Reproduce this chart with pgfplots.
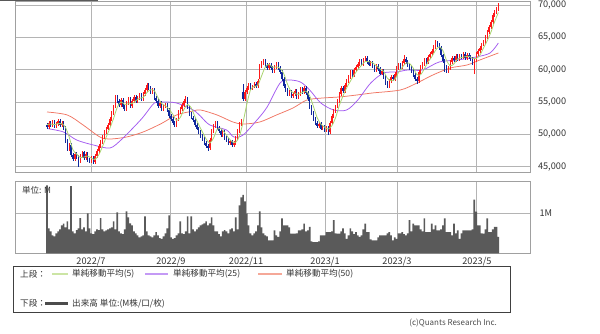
\documentclass[border=0pt]{standalone}
\usepackage{pgfplots}
\pgfplotsset{compat=1.18}
\usepackage{pgfplotstable}
\usepackage{fontspec}
\setmainfont{Noto Sans CJK JP}
\definecolor{upc}{HTML}{FF1A1A}
\definecolor{dnc}{HTML}{10289C}
\definecolor{ma5}{HTML}{A9D46F}
\definecolor{ma25}{HTML}{A259F0}
\definecolor{ma50}{HTML}{F07563}
\definecolor{ma5l}{HTML}{CCE5A5}
\definecolor{ma25l}{HTML}{C49AF5}
\definecolor{ma50l}{HTML}{F5A898}
\definecolor{volc}{HTML}{5A5A5A}
\definecolor{gridc}{HTML}{B4B4B4}
\definecolor{framec}{HTML}{A0A0A0}
\definecolor{txtc}{HTML}{333333}

\pgfplotstableread{
i o h l c v
0 51500 51800 50900 51200 1.70
1 51200 52000 50900 51700 0.62
2 51700 52000 51100 51400 0.55
3 51400 52200 51100 51900 0.45
4 51900 52200 51000 51300 0.42
5 51300 51900 51000 51600 0.50
6 51600 52400 51300 52100 0.55
7 52100 52400 51200 51500 0.60
8 51500 52100 51200 51800 0.70
9 51800 52100 50700 51000 0.74
10 51000 51300 48700 49000 0.65
11 49000 49300 47500 47800 0.80
12 47800 48600 47500 48300 0.60
13 48300 48600 46500 46800 1.68
14 46800 47100 45900 46200 0.55
15 46200 47300 45900 47000 0.50
16 47000 47300 46200 46500 0.58
17 46500 46800 45000 45800 0.62
18 45800 46900 45500 46600 0.88
19 46600 47500 46300 47200 0.60
20 47200 47500 46100 46400 0.65
21 46400 47200 46100 46900 0.55
22 46900 47200 45800 46100 1.00
23 46100 46400 45600 45900 0.62
24 45900 46600 45600 46300 0.50
25 46300 46600 45400 45700 0.48
26 45700 46900 45400 46600 0.55
27 46600 47700 46300 47400 0.60
28 47400 48500 47100 48200 0.58
29 48200 49100 47900 48800 0.88
30 48800 49900 48500 49600 0.60
31 49600 50700 49300 50400 0.55
32 50400 51200 50100 50900 0.57
33 50900 51800 50600 51500 0.60
34 51500 52700 51200 52400 0.62
35 52400 53600 52100 53300 0.65
36 53300 54600 53000 54300 0.80
37 54300 56100 54000 55800 0.60
38 55800 56100 54900 55200 1.02
39 55200 55500 54200 54500 0.55
40 54500 55600 54200 55300 0.50
41 55300 55600 53900 54200 0.48
42 54200 54500 53600 53900 0.60
43 53900 55100 53600 54800 1.05
44 54800 55800 54500 55500 0.90
45 55500 55800 54100 54400 0.75
46 54400 55500 54100 55200 0.70
47 55200 56100 54900 55800 0.55
48 55800 56100 54800 55100 0.50
49 55100 55900 54800 55600 0.45
50 55600 56400 55300 56100 0.40
51 56100 56400 55100 55400 0.42
52 55400 56600 55100 56300 0.45
53 56300 57200 56000 56900 0.92
54 56900 57900 56600 57600 0.55
55 57600 57900 56900 57200 0.45
56 57200 57500 56200 56500 0.42
57 56500 57100 56200 56800 0.40
58 56800 57100 55300 55600 0.45
59 55600 55900 54800 55100 0.53
60 55100 55400 54100 54400 0.45
61 54400 55100 54100 54800 0.38
62 54800 55100 53600 53900 0.36
63 53900 54600 53600 54300 0.42
64 54300 54900 54000 54600 0.50
65 54600 54900 53500 53800 0.62
66 53800 54100 52600 52900 0.95
67 52900 53200 52100 52400 0.40
68 52400 52700 51500 51800 0.36
69 51800 52100 51200 51500 0.38
70 51500 52600 51200 52300 0.45
71 52300 53700 52000 53400 0.50
72 53400 54200 53100 53900 0.80
73 53900 54800 53600 54500 0.50
74 54500 55400 54200 55100 0.48
75 55100 55900 54800 55400 0.55
76 55400 55700 53900 54200 0.92
77 54200 54500 52800 53100 0.50
78 53100 53400 52300 52600 0.92
79 52600 52900 51900 52200 0.60
80 52200 52500 51200 51500 0.55
81 51500 51800 50600 50900 0.60
82 50900 51200 50100 50400 0.65
83 50400 50700 49500 49800 0.70
84 49800 50100 49000 49300 0.72
85 49300 49600 48400 48700 0.75
86 48700 49000 47900 48200 0.80
87 48200 48500 47400 47900 0.70
88 47900 49500 47600 49200 0.75
89 49200 50800 48900 50500 0.90
90 50500 51600 50200 51300 0.70
91 51300 52100 51000 51800 0.55
92 51800 52100 50700 51000 0.55
93 51000 51300 50200 50500 0.48
94 50500 50800 49600 49900 0.42
95 49900 50700 49600 50400 0.55
96 50400 50700 49200 49500 0.58
97 49500 49800 48800 49100 0.55
98 49100 49400 48300 48600 0.50
99 48600 49200 48300 48900 0.60
100 48900 49200 48000 48300 0.62
101 48300 48900 48000 48600 0.55
102 48600 49800 48300 49500 0.90
103 49500 50800 49200 50500 0.60
104 50500 51900 50200 51600 1.20
105 51600 52300 51300 52000 1.40
106 56600 57800 55100 55400 1.46
107 55400 56900 55100 56600 1.30
108 56600 57500 56300 57200 1.00
109 57200 57900 56900 57600 0.70
110 57600 57900 56800 57100 0.50
111 57100 57700 56800 57400 0.45
112 57400 58100 57100 57800 0.50
113 57800 58100 57200 57500 0.55
114 57500 58500 57200 58200 0.70
115 58800 60900 58500 60600 1.05
116 60600 61400 60300 61100 0.65
117 61100 61700 60800 61400 0.50
118 61400 61700 60400 60700 0.45
119 60700 61000 59900 60200 0.42
120 60200 61100 59900 60800 0.32
121 60800 61100 60000 60300 0.32
122 60300 60600 59500 59800 0.32
123 59800 60700 59500 60400 0.57
124 60400 61200 60100 60900 0.45
125 60900 61200 60000 60300 0.41
126 60300 60600 59300 59600 0.55
127 59600 59900 58300 58600 0.87
128 58600 58900 57200 57500 0.70
129 57500 57800 56500 56800 0.70
130 56800 57100 56000 56300 0.70
131 56300 56900 56000 56600 0.65
132 56600 56900 55600 55900 0.49
133 55900 56500 55600 56200 0.49
134 56200 57000 55900 56700 0.49
135 56700 57000 55500 55800 0.50
136 55800 56600 55500 56300 0.57
137 56300 57300 56000 57000 0.57
138 57000 57300 56300 56600 0.60
139 56600 57400 56300 57100 0.74
140 57100 57400 56100 56400 0.55
141 56400 56700 55100 55400 0.57
142 55400 55700 53900 54200 0.66
143 54200 54500 53000 53300 0.30
144 53300 53600 52100 52400 0.28
145 52400 52700 51500 51800 0.28
146 51800 52100 51000 51300 0.28
147 51300 51900 51000 51600 0.30
148 51600 51900 50600 50900 0.45
149 50900 51500 50600 51200 0.45
150 51200 51500 50400 50700 0.45
151 50700 51300 50400 51000 0.53
152 51000 51300 49900 50300 0.53
153 50300 52100 50000 51800 0.53
154 51800 53200 51500 52900 0.55
155 52900 53900 52600 53600 0.83
156 53600 54600 53300 54300 0.50
157 54300 55500 54000 55200 0.49
158 55200 56600 54900 56300 0.49
159 56300 57400 56000 57100 0.55
160 57100 57400 56400 56700 0.62
161 56700 57900 56400 57600 0.50
162 57600 58600 57300 58300 0.36
163 58300 59200 58000 58900 0.45
164 58900 59900 58600 59600 0.62
165 59600 59900 58900 59200 0.55
166 59200 60200 58900 59900 0.48
167 59900 60700 59600 60400 0.53
168 60400 61200 60100 60900 0.45
169 60900 61600 60600 61300 0.41
170 61300 61600 60500 60800 0.45
171 60800 61800 60500 61500 0.60
172 61500 62100 61200 61800 0.74
173 61800 62100 60900 61200 0.53
174 61200 61500 60500 60800 0.53
175 60800 61400 60500 61100 0.35
176 61100 61400 60200 60500 0.32
177 60500 60800 59700 60000 0.32
178 60000 60900 59700 60600 0.32
179 60600 60900 59800 60100 0.40
180 60100 60400 59100 59400 0.45
181 59400 60100 59100 59800 0.45
182 59800 60100 58500 58800 0.45
183 58800 59100 57600 57900 0.45
184 57900 58200 57200 57500 0.50
185 57500 58600 57200 58300 0.53
186 58300 59200 58000 58900 0.45
187 58900 59200 58200 58500 0.32
188 58500 59600 58200 59300 0.40
189 59300 60500 59000 60200 0.36
190 60200 61100 59900 60800 0.50
191 60800 61100 60100 60400 0.50
192 60400 61300 60100 61000 0.53
193 61000 62300 60700 61600 0.48
194 61600 61900 60900 61200 0.45
195 61200 61500 60400 60700 0.50
196 60700 61000 60000 60300 0.83
197 60300 60600 59500 59800 0.55
198 59800 60100 58900 59200 0.74
199 59200 59500 58300 58600 0.70
200 58600 58900 57800 58300 0.70
201 58300 59900 58000 59600 0.70
202 59600 60700 59300 60400 0.60
203 60400 61200 60100 60900 0.55
204 60900 61800 60600 61500 0.87
205 61500 61800 60900 61200 0.53
206 61200 62200 60900 61900 0.53
207 61900 62700 61600 62400 0.53
208 62400 63200 62100 62900 0.74
209 62900 63800 62600 63500 0.60
210 63500 64600 63200 64200 0.70
211 64200 64500 63500 63800 0.57
212 63800 64100 63000 63300 0.57
213 63300 63600 61900 62200 0.60
214 62200 62500 61000 61300 0.70
215 61300 61600 59600 60500 0.87
216 60500 60800 59500 59800 0.53
217 59800 60500 59500 60200 0.53
218 60200 61500 59900 61200 0.53
219 61200 62100 60900 61800 0.45
220 61800 62100 61200 61500 0.74
221 61500 62400 61200 62100 0.50
222 62100 62400 61400 61700 0.57
223 61700 62500 61400 62200 0.36
224 62200 62500 61600 61900 0.50
225 61900 62700 61600 62400 0.57
226 62400 62700 61500 61800 0.57
227 61800 62600 61500 62300 0.57
228 62300 62600 61700 62000 0.57
229 62000 62300 61400 61700 0.57
230 61700 62000 60700 61000 0.60
231 61000 61800 59400 61500 1.34
232 61500 62700 61200 62400 1.04
233 62400 63200 62100 62900 0.70
234 62900 63700 62600 63400 0.70
235 63400 64200 63100 63900 0.50
236 63900 64600 63600 64300 0.49
237 64300 65300 64000 65000 0.60
238 65000 66100 64700 65800 0.87
239 65800 66900 65500 66600 0.53
240 66600 67700 66300 67400 0.53
241 67400 68800 67100 68500 0.60
242 68500 69200 68200 68900 0.66
243 68900 69700 68600 69400 0.66
244 69400 70300 69100 70000 0.41
}\stock

\pgfplotstableread{
i m
0 51500
2 51600
4 51500
6 51660
8 51660
10 51080
12 49580
14 47620
16 46960
18 46420
20 46500
22 46640
24 46320
26 46120
28 46840
30 48120
32 49580
34 50960
36 52480
38 54200
40 55020
42 54620
44 54740
46 54760
48 55200
50 55560
52 55700
54 56460
56 56900
58 56740
60 55680
62 54760
64 54400
66 53900
68 53100
70 52180
72 52580
74 53840
76 54620
78 54080
80 52720
82 51520
84 50380
86 49280
88 48660
90 49420
92 50760
94 50900
96 50260
98 49500
100 48880
102 48780
104 49700
106 51880
108 54640
110 56860
112 57420
114 57600
116 59040
118 60400
120 60840
122 60360
124 60440
126 60200
128 59380
130 57760
132 56620
134 56340
136 56180
138 56480
140 56680
142 55940
144 54340
146 52600
148 51600
150 51140
152 50820
154 51340
156 52580
158 54460
160 55920
162 57200
164 58220
166 59180
168 60000
170 60660
172 61260
174 61220
176 61080
178 60600
180 60120
182 59740
184 58680
186 58280
188 58500
190 59540
192 60340
194 61000
196 60960
198 60240
200 59240
202 59220
204 60140
206 61180
208 61980
210 62980
212 63540
214 62960
216 61420
218 60600
220 60900
222 61660
224 61880
226 62000
228 62080
230 61760
232 61720
234 62240
236 63380
238 64480
240 65820
242 67440
244 68840
}\maA

\pgfplotstableread{
i m
0 50900
9 50360
16 49130
25 48360
34 47890
40 49130
47 51140
52 52690
58 54850
62 55000
70 54850
79 53770
83 52800
88 51450
97 50680
101 49590
106 49900
113.5 52220
119 54230
126 57940
131 58400
137 58090
142 56860
148 54850
155 53770
162 53770
168 55310
175 57940
182 59490
189 59640
195 59950
203 59950
212 61190
222 61500
232 61960
239.5 62580
244 64130
}\maB

\pgfplotstableread{
i m
0 53460
11 52990
19.5 51450
28.6 49590
34 49280
43 49590
52 50370
62 51700
70 52990
79 53610
83 53770
92 52990
100.5 51910
106 51600
115 51910
124 52990
133 54080
140.5 55310
149 55620
158 55780
167.6 56090
176 56400
191 56860
200 57940
208.6 59180
218 60260
227 60720
234 61500
244 62580
}\maC

\pgfplotsset{
  chartbase/.style={
    scale only axis, width=515pt,
    xmin=-17.3, xmax=261.1,
    xtick={23.8,67.0,107.6,150.3,189.2,232.4},
    grid=major, grid style={color=gridc, line width=0.9pt},
    axis line style={color=framec, line width=0.8pt},
    major tick length=0pt,
    yticklabel pos=right,
    ticklabel style={font=\fontsize{9.2}{11}\selectfont, text=txtc},
    /pgf/number format/assume math mode=true,
    scaled y ticks=false,
  }
}

\begin{document}
\begin{tikzpicture}
\path[use as bounding box] (0pt,0pt) rectangle (600pt,-334pt);
\fill[black!65] (0pt,0pt) rectangle (98pt,-1.2pt);
\begin{axis}[chartbase, height=171pt, at={(15pt,-1pt)}, anchor=north west,
  ymin=44180, ymax=70618,
  ytick={45000,50000,55000,60000,65000,70000},
  xticklabels={},
  yticklabel style={/pgf/number format/fixed, /pgf/number format/1000 sep={,}, anchor=west, xshift=4.5pt},
  unbounded coords=discard,
]
\addplot[ma50, line width=0.75pt, smooth] table[x=i, y=m]{\maC};
\addplot[ma25, line width=0.75pt, smooth] table[x=i, y=m]{\maB};
% wicks
\addplot[draw=none, mark=none,
  restrict expr to domain={\thisrow{c}-\thisrow{o}}{0:100000},
  error bars/.cd, y dir=both, y explicit, error mark=none,
  error bar style={line width=0.5pt, color=upc}]
  table[x=i, y=c, y error plus expr=\thisrow{h}-\thisrow{c}, y error minus expr=\thisrow{c}-\thisrow{l}]{\stock};
\addplot[draw=none, mark=none,
  restrict expr to domain={\thisrow{c}-\thisrow{o}}{-100000:-1},
  error bars/.cd, y dir=both, y explicit, error mark=none,
  error bar style={line width=0.5pt, color=dnc}]
  table[x=i, y=c, y error plus expr=\thisrow{h}-\thisrow{c}, y error minus expr=\thisrow{c}-\thisrow{l}]{\stock};
% bodies
\addplot[draw=none, mark=none,
  restrict expr to domain={\thisrow{c}-\thisrow{o}}{0:100000},
  error bars/.cd, y dir=both, y explicit, error mark=none,
  error bar style={line width=1.3pt, color=upc}]
  table[x=i, y expr=(\thisrow{o}+\thisrow{c})/2, y error expr=abs(\thisrow{c}-\thisrow{o})/2]{\stock};
\addplot[draw=none, mark=none,
  restrict expr to domain={\thisrow{c}-\thisrow{o}}{-100000:-1},
  error bars/.cd, y dir=both, y explicit, error mark=none,
  error bar style={line width=1.3pt, color=dnc}]
  table[x=i, y expr=(\thisrow{o}+\thisrow{c})/2, y error expr=abs(\thisrow{c}-\thisrow{o})/2]{\stock};
\addplot[ma5, line width=0.8pt, smooth] table[x=i, y=m]{\maA};
\end{axis}

\begin{axis}[chartbase, height=71.6pt, at={(15pt,-181.7pt)}, anchor=north west,
  ymin=0, ymax=1.79,
  ytick={1}, yticklabels={1M},
  yticklabel style={anchor=west, xshift=6pt},
  xticklabels={2022/7,2022/9,2022/11,2023/1,2023/3,2023/5},
  xticklabel style={yshift=-0.5pt},
]
\addplot[ybar, bar width=0.9, fill=volc, draw=none] table[x=i, y=v]{\stock};
\node[anchor=west, inner sep=0pt, font=\fontsize{8.5}{10}\selectfont, text=txtc] at ([xshift=7pt,yshift=-8.3pt]rel axis cs:0,1) {単位: M};
\end{axis}

% legend box
\draw[line width=0.8pt, black!75] (13pt,-266pt) rectangle (510pt,-312pt);
\begin{scope}[every node/.style={anchor=west, inner sep=0pt, font=\fontsize{8.6}{10}\selectfont, text=txtc}]
\node at (20pt,-274pt) {上段：};
\draw[ma5l, line width=2.6pt] (52pt,-274pt) -- (68pt,-274pt);
\node at (72pt,-274pt) {単純移動平均(5)};
\draw[ma25l, line width=2.6pt] (145pt,-274pt) -- (168pt,-274pt);
\node at (173pt,-274pt) {単純移動平均(25)};
\draw[ma50l, line width=2.6pt] (258pt,-274pt) -- (282pt,-274pt);
\node at (286pt,-274pt) {単純移動平均(50)};
\node at (20pt,-303.3pt) {下段：};
\draw[black!70, line width=2.6pt] (45pt,-303.3pt) -- (68pt,-303.3pt);
\node at (72pt,-303.3pt) {出来高 単位:(M株/口/枚)};
\end{scope}
\node[anchor=east, inner sep=0pt, font=\fontsize{8}{10}\selectfont, text=black!70] at (497pt,-322.7pt) {(c)Quants Research Inc.};
\end{tikzpicture}
\end{document}
